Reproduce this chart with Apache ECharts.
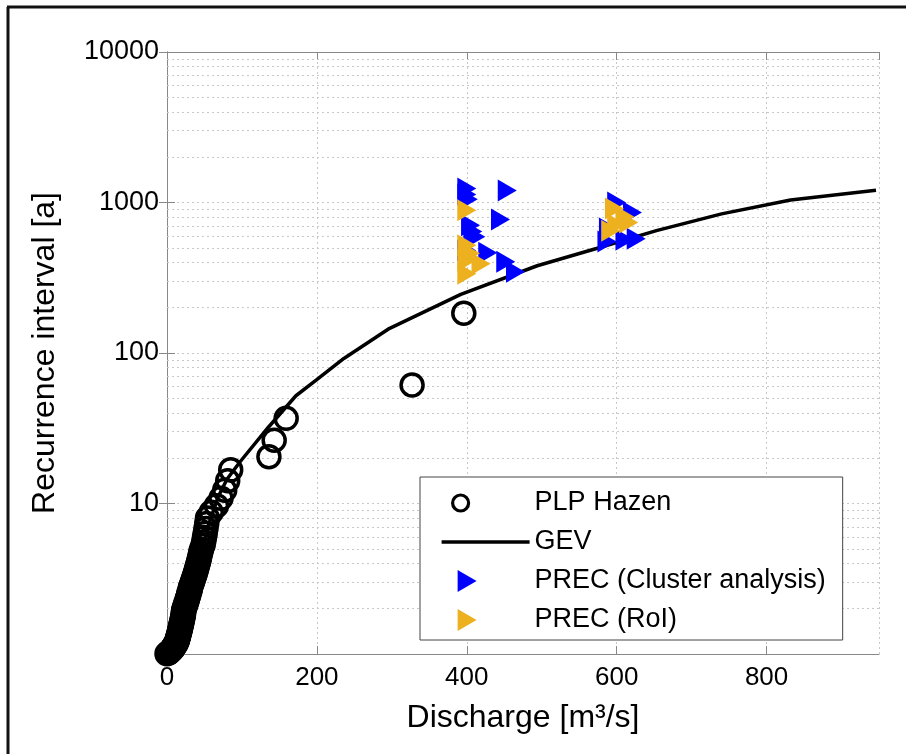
<!DOCTYPE html>
<html>
<head>
<meta charset="utf-8">
<script src="https://cdn.jsdelivr.net/npm/echarts@6/dist/echarts.min.js"></script>
<style>
html,body{margin:0;padding:0;background:#fff}
#main{width:906px;height:754px}
</style>
</head>
<body>
<div id="main"></div>
<script>
// PLP Hazen plotting positions: discharge [m3/s] and recurrence interval [a]
var plpQ = [0,2,3,4,5,6,7,8,8,9,10,10,11,12,12,13,13,14,
  14,14,15,15,15,16,16,16,17,17,17,18,18,18,19,19,19,20,20,20,21,21,21,22,22,22,22,23,23,
  24,25,25,26,27,27,28,29,29,30,31,31,32,33,34,
  35,36,37,38,39,40,41,42,43,44,45,46,
  48,49,50,51,52,53,54,
  59,66,72,77,81,85,136,143,159,327,396]
var plpT = [1.005,1.017,1.028,1.04,1.051,1.064,1.076,1.089,1.102,1.115,1.129,1.143,1.157,1.172,1.187,1.203,1.219,1.235,
  1.252,1.269,1.287,1.305,1.324,1.343,1.363,1.383,1.405,1.426,1.449,1.472,1.496,1.521,1.546,1.573,1.6,1.628,1.658,1.688,1.72,1.752,1.786,1.822,1.859,1.897,1.937,1.978,2.022,
  2.067,2.115,2.165,2.217,2.272,2.329,2.39,2.453,2.521,2.592,2.667,2.746,2.831,2.921,3.016,
  3.119,3.228,3.345,3.472,3.608,3.755,3.915,4.089,4.279,4.488,4.718,4.973,
  5.257,5.576,5.935,6.345,6.815,7.36,8.0,
  8.76,9.68,10.82,12.27,14.15,16.73,20.44,26.29,36.8,61.33,184]

// GEV fit
var gevQ = [2,12,22,33,45,57,68,80,97,135,172,199,236,295,392,494,573,653,740,832,946]
var gevT = [1.01,1.25,1.8,2.8,4.6,7.6,11,14.5,18.8,32,52,66,92,144,245,380,495,650,840,1040,1205]

// PREC (Cluster analysis)
var clusterQ = [400,400,402,454,445,405,408,412,428,400,452,465,600,621,589,611,587,626]
var clusterT = [1240,1130,1050,1200,770,706,641,593,464,480,404,347,1000,858,671,565,550,575]

// PREC (RoI)
var roiQ = [400,400,400,400,419,405,597,611,600,616,592]
var roiT = [889,519,412,336,392,460,911,803,713,735,650]

var minorGrid = [2,3,4,5,6,7,8,9,20,30,40,50,60,70,80,90,200,300,400,500,600,700,800,900,2000,3000,4000,5000,6000,7000,8000,9000]

function pairs(a,b){ return a.map(function(v,i){ return [v,b[i]] }) }

var font = 'Liberation Sans'
var triPath = 'path://M0,0L1,0.5L0,1Z'
var gridStyle = {color:'#c8c8c8', width:1, type:[2,3]}
// legend icons drawn left of centre, like the original figure
var circleIcon = 'path://M0,0M88,20M27,10A8,8 0 1,1 11,10A8,8 0 1,1 27,10Z'
var triIcon = 'path://M0,0M88,22M16,0L35,11L16,22Z'

var chart = echarts.init(document.getElementById('main'))
chart.setOption({
  backgroundColor:'#fff',
  animation:false,
  grid:{left:167, right:27, top:52, bottom:100, outerBoundsMode:'none'},
  graphic:[
    {type:'line', shape:{x1:7,y1:7,x2:906,y2:7}, style:{stroke:'#111', lineWidth:3}},
    {type:'line', shape:{x1:8,y1:7,x2:8,y2:754}, style:{stroke:'#111', lineWidth:3}}
  ],
  legend:{
    orient:'vertical', left:420, top:477, z:10,
    padding:[11,17,5,20], itemGap:9, itemWidth:88, itemHeight:22,
    backgroundColor:'#fff', borderColor:'#444', borderWidth:1,
    textStyle:{fontFamily:font, fontSize:27, color:'#000', lineHeight:30},
    data:[
      {name:'PLP Hazen', icon:circleIcon, itemStyle:{color:'rgba(0,0,0,0)', borderColor:'#000', borderWidth:3.2}},
      {name:'GEV', icon:'path://M0,0L88,0L88,3.5L0,3.5Z'},
      {name:'PREC (Cluster analysis)', icon:triIcon},
      {name:'PREC (RoI)', icon:triIcon}
    ]
  },
  xAxis:[{
    type:'value', min:0, max:950, interval:200,
    axisLine:{lineStyle:{color:'#888'}},
    axisTick:{inside:true, length:8, lineStyle:{color:'#888'}},
    axisLabel:{color:'#000', fontFamily:font, fontSize:26, margin:11, showMaxLabel:false},
    splitLine:{show:true, lineStyle:gridStyle},
    name:'Discharge [m³/s]', nameLocation:'middle', nameGap:48,
    nameTextStyle:{color:'#000', fontFamily:font, fontSize:32}
  },{
    type:'value', min:0, max:950, interval:200, position:'top',
    axisLine:{lineStyle:{color:'#888'}},
    axisTick:{inside:true, length:8, lineStyle:{color:'#888'}},
    axisLabel:{show:false}, splitLine:{show:false}
  }],
  yAxis:[{
    type:'log', logBase:10, min:1, max:10000,
    axisLine:{lineStyle:{color:'#888'}},
    axisTick:{inside:true, length:8, lineStyle:{color:'#888'}},
    axisLabel:{color:'#000', fontFamily:font, fontSize:27, margin:8,
      formatter:function(v){ return v <= 1.5 ? '' : String(Math.round(v)) }},
    splitLine:{show:true, lineStyle:gridStyle},
    name:'Recurrence interval [a]', nameLocation:'middle', nameGap:106,
    nameTextStyle:{color:'#000', fontFamily:font, fontSize:32}
  },{
    type:'log', logBase:10, min:1, max:10000, position:'right',
    axisLine:{lineStyle:{color:'#888'}},
    axisTick:{inside:true, length:8, lineStyle:{color:'#888'}},
    axisLabel:{show:false}, splitLine:{show:false}
  }],
  series:[
    {
      type:'line', data:[], z:0, silent:true,
      markLine:{silent:true, z:1, symbol:'none', label:{show:false},
        lineStyle:gridStyle, animation:false,
        data:minorGrid.map(function(v){ return {yAxis:v} })}
    },
    {
      name:'PLP Hazen', type:'scatter', symbol:'circle', symbolSize:22,
      itemStyle:{color:'rgba(0,0,0,0)', borderColor:'#000', borderWidth:3.5, opacity:1},
      data:pairs(plpQ, plpT), z:3
    },
    {
      name:'GEV', type:'line', symbol:'none', showSymbol:false,
      lineStyle:{color:'#000', width:3.5}, itemStyle:{color:'#000'},
      data:pairs(gevQ, gevT), z:4
    },
    {
      name:'PREC (Cluster analysis)', type:'scatter', symbol:triPath, symbolSize:[19,22],
      symbolKeepAspect:false,
      itemStyle:{color:'#0000ff', opacity:1},
      data:pairs(clusterQ, clusterT), z:5
    },
    {
      name:'PREC (RoI)', type:'scatter', symbol:triPath, symbolSize:[19,22],
      symbolKeepAspect:false,
      itemStyle:{color:'#edb120', opacity:1},
      data:pairs(roiQ, roiT), z:6
    }
  ]
})
</script>
</body>
</html>
